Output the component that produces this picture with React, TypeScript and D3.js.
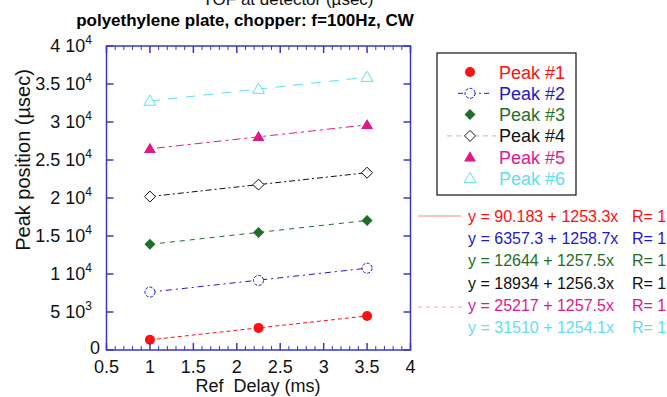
import React from "react";
import * as d3 from "d3";

const refDelay = [1, 2.25, 3.5];
const seriesNames = ["Peak #1", "Peak #2", "Peak #3", "Peak #4", "Peak #5", "Peak #6"];
const peak1 = [1343, 2910, 4477];
const peak2 = [7620, 9160, 10763];
const peak3 = [13901, 15473, 17045];
const peak4 = [20190, 21761, 23331];
const peak5 = [26474, 28046, 29618];
const peak6 = [32764, 34332, 35899];
const intercepts = [90.183, 6357.3, 12644, 18934, 25217, 31510];
const slopes = [1253.3, 1258.7, 1257.5, 1256.3, 1257.5, 1254.1];
const equationTexts = [
  "y = 90.183 + 1253.3x",
  "y = 6357.3 + 1258.7x",
  "y = 12644 + 1257.5x",
  "y = 18934 + 1256.3x",
  "y = 25217 + 1257.5x",
  "y = 31510 + 1254.1x",
];
const rTexts = ["R= 1", "R= 1", "R= 1", "R= 1", "R= 1", "R= 1"];
const xTicks = [0.5, 1, 1.5, 2, 2.5, 3, 3.5, 4];
const xTickLabels = ["0.5", "1", "1.5", "2", "2.5", "3", "3.5", "4"];
const yTicks = [0, 5000, 10000, 15000, 20000, 25000, 30000, 35000, 40000];
const yTickMant = ["0", "5", "1", "1.5", "2", "2.5", "3", "3.5", "4"];
const yTickExp = ["", "3", "4", "4", "4", "4", "4", "4", "4"];

const allPeaks = [peak1, peak2, peak3, peak4, peak5, peak6];
const colors = ["#ff1010", "#1a1ac8", "#1f6e2a", "#111111", "#e0198a", "#5ee0f0"];
const markers = ["circleFill", "circleOpen", "diamondFill", "diamondOpen", "triFill", "triOpen"];
const dashes = ["4,3", "6,4,2,4", "5,5", "6,3,2,3", "3,4,8,4", "10,8"];

const FONT = "'Liberation Sans', Arial, Helvetica, sans-serif";

function Marker({ kind, x, y, color }: { kind: string; x: number; y: number; color: string }) {
  if (kind === "circleFill") return <circle cx={x} cy={y} r={5} fill={color} />;
  if (kind === "circleOpen")
    return <circle cx={x} cy={y} r={5} fill="white" stroke={color} strokeWidth={1} strokeDasharray="3,1.5" />;
  if (kind === "diamondFill" || kind === "diamondOpen") {
    const s = 5.5;
    const p = `M${x},${y - s}L${x + s},${y}L${x},${y + s}L${x - s},${y}Z`;
    return kind === "diamondFill" ? (
      <path d={p} fill={color} />
    ) : (
      <path d={p} fill="white" stroke={color} strokeWidth={1} />
    );
  }
  const s = 6;
  const p = `M${x},${y - s}L${x + s},${y + s * 0.7}L${x - s},${y + s * 0.7}Z`;
  return kind === "triFill" ? (
    <path d={p} fill={color} />
  ) : (
    <path d={p} fill="white" stroke={color} strokeWidth={1} />
  );
}

export default function App() {
  const W = 667;
  const H = 397;
  const left = 106.5;
  const right = 410.5;
  const top = 46;
  const bottom = 350;
  const x = d3.scaleLinear().domain([0.5, 4]).range([left, right]);
  const y = d3.scaleLinear().domain([0, 40000]).range([bottom, top]);
  const axisColor = "#3838c0";
  const minorX = d3.range(5, 41).map((v) => v / 10).filter((v) => Math.abs(v * 2 - Math.round(v * 2)) > 1e-6);

  return (
    <svg
      width={W}
      height={H}
      style={{ position: "absolute", left: 0, top: 0, background: "white" }}
      fontFamily={FONT}
    >
      <rect x={0} y={0} width={W} height={H} fill="white" />
      {/* clipped top title */}
      <text x={288} y={5} textAnchor="middle" fontSize={17} fill="#111">
        TOF at detector (µsec)
      </text>
      <text x={245} y={26} textAnchor="middle" fontSize={17} fontWeight="bold" fill="#000">
        polyethylene plate, chopper: f=100Hz, CW
      </text>

      {/* fit lines */}
      {intercepts.map((b, i) => {
        const xs = [refDelay[0], refDelay[refDelay.length - 1]];
        const l = d3
          .line<number>()
          .x((d) => x(d))
          .y((d) => y(b + slopes[i] * d));
        return (
          <path
            key={"fit" + i}
            d={l(xs) || ""}
            fill="none"
            stroke={colors[i]}
            strokeWidth={1}
            strokeDasharray={dashes[i]}
          />
        );
      })}

      {/* markers */}
      {allPeaks.map((vals, i) =>
        vals.map((v, j) => (
          <Marker key={`m${i}-${j}`} kind={markers[i]} x={x(refDelay[j])} y={y(v)} color={colors[i]} />
        ))
      )}

      {/* frame */}
      <rect x={left} y={top} width={right - left} height={bottom - top} fill="none" stroke={axisColor} strokeWidth={1.5} />
      {/* x ticks */}
      {xTicks.map((t, i) => (
        <g key={"xt" + i}>
          <line x1={x(t)} x2={x(t)} y1={bottom} y2={bottom - 7} stroke={axisColor} strokeWidth={1.5} />
          <line x1={x(t)} x2={x(t)} y1={top} y2={top + 7} stroke={axisColor} strokeWidth={1.5} />
          <text x={x(t)} y={373} textAnchor="middle" fontSize={18} fill="#111">
            {xTickLabels[i]}
          </text>
        </g>
      ))}
      {minorX.map((t, i) => (
        <g key={"xm" + i}>
          <line x1={x(t)} x2={x(t)} y1={bottom} y2={bottom - 4} stroke={axisColor} strokeWidth={1} />
          <line x1={x(t)} x2={x(t)} y1={top} y2={top + 4} stroke={axisColor} strokeWidth={1} />
        </g>
      ))}
      {/* y ticks */}
      {yTicks.map((t, i) => (
        <g key={"yt" + i}>
          <line x1={left} x2={left + 7} y1={y(t)} y2={y(t)} stroke={axisColor} strokeWidth={1.5} />
          <line x1={right} x2={right - 7} y1={y(t)} y2={y(t)} stroke={axisColor} strokeWidth={1.5} />
          {yTickExp[i] === "" ? (
            <text x={100} y={y(t) + 4} textAnchor="end" fontSize={18} fill="#111">
              {yTickMant[i]}
            </text>
          ) : (
            <text x={92} y={y(t) + 6} textAnchor="end" fontSize={18} fill="#111">
              {yTickMant[i] + " 10"}
              <tspan fontSize={12} dy={-8}>
                {yTickExp[i]}
              </tspan>
            </text>
          )}
        </g>
      ))}

      {/* axis labels */}
      <text x={258} y={392} textAnchor="middle" fontSize={18} fill="#111" style={{ whiteSpace: "pre" }}>
        {"Ref  Delay (ms)"}
      </text>
      <text
        transform={`translate(30,160) rotate(-90)`}
        textAnchor="middle"
        fontSize={20}
        fill="#111"
      >
        Peak position (µsec)
      </text>

      {/* legend */}
      <rect x={437} y={53} width={139} height={142} fill="white" stroke="#111" strokeWidth={1.2} />
      {seriesNames.map((n, i) => {
        const ly = 72 + i * 21.3;
        return (
          <g key={"lg" + i}>
            {i === 1 && (
              <line x1={458} x2={491} y1={ly} y2={ly} stroke={colors[i]} strokeWidth={1} strokeDasharray="5,3,2,3" />
            )}
            {i === 3 && (
              <line x1={447} x2={496} y1={ly} y2={ly} stroke="#bbb" strokeWidth={1} strokeDasharray="5,4" />
            )}
            <Marker kind={markers[i]} x={470} y={ly} color={colors[i]} />
            <text x={499} y={ly + 6.5} fontSize={18} fill={colors[i]}>
              {n}
            </text>
          </g>
        );
      })}

      {/* equations */}
      <line x1={418} x2={461} y1={216} y2={216} stroke="#ff8080" strokeWidth={1} />
      <line x1={418} x2={462} y1={307} y2={307} stroke="#e8a0c0" strokeWidth={1} strokeDasharray="4,4" />
      {equationTexts.map((t, i) => {
        const ey = 222 + i * 22.2;
        return (
          <g key={"eq" + i}>
            <text x={468} y={ey} fontSize={16} fill={colors[i]}>
              {t}
            </text>
            <text x={632} y={ey} fontSize={16} fill={colors[i]}>
              {rTexts[i]}
            </text>
          </g>
        );
      })}
    </svg>
  );
}
